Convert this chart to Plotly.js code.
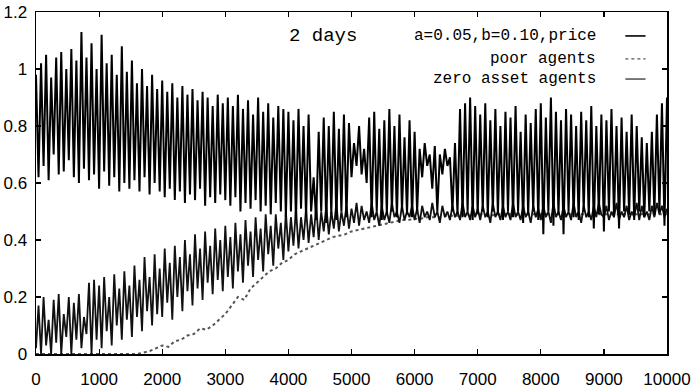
<!DOCTYPE html>
<html>
<head>
<meta charset="utf-8">
<script src="https://cdn.plot.ly/plotly-3.0.1.min.js"></script>
<style>html,body{margin:0;padding:0;background:#fff;}#chart{width:692px;height:392px;}</style>
</head>
<body>
<div id="chart"></div>
<script>
// time grid (sampling steps)
const priceStep = 40;
const zeroStep = 100;

// price series, sampled every 40 time steps (0 .. 10000)
const price = [
 0.98,0.62,1.02,0.66,1.05,0.61,0.97,0.70,1.04,0.63,1.06,0.64,1.00,0.68,1.07,0.62,1.03,0.60,1.13,0.65,1.04,0.61,1.09,0.63,1.00,
 0.58,1.12,0.64,1.02,0.59,1.05,0.62,0.98,0.57,1.08,0.60,0.99,0.58,1.03,0.61,0.95,0.57,1.00,0.62,0.94,0.56,0.98,0.60,0.93,0.57,
 0.96,0.55,0.92,0.58,0.95,0.54,0.90,0.57,0.94,0.53,0.91,0.56,0.93,0.54,0.89,0.58,0.92,0.52,0.90,0.55,0.87,0.53,0.91,0.56,0.88,
 0.54,0.90,0.52,0.87,0.55,0.91,0.50,0.86,0.53,0.89,0.51,0.84,0.54,0.90,0.50,0.85,0.52,0.88,0.49,0.83,0.53,0.87,0.50,0.86,0.48,
 0.85,0.50,0.82,0.47,0.86,0.51,0.80,0.48,0.84,0.50,0.62,0.47,0.78,0.50,0.83,0.46,0.80,0.49,0.85,0.47,0.79,0.50,0.84,0.48,0.81,
 0.62,0.74,0.66,0.80,0.63,0.72,0.60,0.83,0.48,0.85,0.50,0.79,0.47,0.82,0.49,0.86,0.50,0.80,0.48,0.84,0.50,0.76,0.49,0.82,0.48,
 0.78,0.50,0.72,0.62,0.74,0.66,0.70,0.58,0.73,0.50,0.70,0.63,0.72,0.66,0.69,0.50,0.74,0.49,0.86,0.48,0.88,0.50,0.90,0.47,0.87,
 0.49,0.84,0.50,0.88,0.48,0.82,0.50,0.86,0.49,0.80,0.47,0.85,0.50,0.83,0.48,0.87,0.50,0.78,0.46,0.84,0.49,0.81,0.50,0.86,0.47,
 0.88,0.42,0.83,0.50,0.90,0.45,0.85,0.49,0.82,0.42,0.86,0.50,0.84,0.48,0.80,0.47,0.85,0.50,0.82,0.48,0.87,0.44,0.80,0.49,0.84,
 0.43,0.82,0.50,0.86,0.48,0.80,0.44,0.83,0.50,0.78,0.49,0.84,0.47,0.80,0.50,0.76,0.48,0.74,0.50,0.78,0.49,0.84,0.50,0.88,0.45,0.90
];

// poor agents, sampled every 40 time steps
const poorAgents = [
 0.02,0.17,0.00,0.20,0.03,0.12,0.00,0.19,0.04,0.21,0.00,0.14,0.06,0.20,0.00,0.18,0.05,0.21,0.02,0.13,0.07,0.25,0.00,0.26,0.05,
 0.24,0.02,0.27,0.08,0.20,0.03,0.28,0.10,0.23,0.05,0.29,0.12,0.24,0.06,0.31,0.13,0.26,0.08,0.34,0.15,0.27,0.10,0.35,0.14,0.30,
 0.13,0.37,0.18,0.32,0.12,0.38,0.20,0.34,0.15,0.40,0.22,0.35,0.17,0.42,0.23,0.37,0.19,0.43,0.25,0.38,0.21,0.44,0.26,0.40,0.22,
 0.45,0.27,0.41,0.23,0.46,0.29,0.42,0.25,0.47,0.31,0.43,0.27,0.48,0.33,0.44,0.29,0.49,0.35,0.45,0.31,0.49,0.37,0.46,0.33,0.50,
 0.36,0.48,0.38,0.51,0.37,0.48,0.40,0.51,0.39,0.49,0.41,0.52,0.40,0.50,0.43,0.52,0.42,0.50,0.44,0.53,0.43,0.50,0.45,0.52,0.44,
 0.51,0.46,0.53,0.45,0.52,0.47,0.50,0.46,0.53,0.47,0.50,0.45,0.52,0.47,0.50,0.46,0.53,0.48,0.50,0.46,0.52,0.47,0.50,0.48,0.52,
 0.47,0.51,0.46,0.52,0.48,0.50,0.47,0.53,0.48,0.50,0.46,0.52,0.48,0.50,0.47,0.52,0.48,0.50,0.47,0.53,0.48,0.50,0.47,0.52,0.48,
 0.51,0.47,0.52,0.48,0.50,0.46,0.53,0.48,0.50,0.47,0.52,0.48,0.50,0.47,0.53,0.48,0.50,0.47,0.52,0.48,0.50,0.46,0.52,0.48,0.51,
 0.47,0.52,0.48,0.50,0.46,0.53,0.48,0.50,0.47,0.52,0.48,0.50,0.47,0.53,0.48,0.50,0.46,0.52,0.48,0.50,0.47,0.52,0.48,0.53,0.49,
 0.48,0.52,0.47,0.50,0.48,0.53,0.47,0.50,0.48,0.52,0.47,0.50,0.48,0.53,0.47,0.52,0.48,0.50,0.47,0.52,0.48,0.53,0.49,0.52,0.48,0.51
];

// zero asset agents, sampled every 100 time steps
const zeroAsset = [
 0,0,0,0,0,0,0,0,0,0,
 0,0,0,0,0,0,0,0.005,0.01,0.02,
 0.03,0.025,0.045,0.05,0.065,0.07,0.09,0.085,0.10,0.12,
 0.14,0.17,0.20,0.19,0.23,0.25,0.27,0.29,0.30,0.32,
 0.33,0.35,0.36,0.37,0.38,0.39,0.40,0.41,0.415,0.42,
 0.43,0.435,0.44,0.445,0.45,0.455,0.46,0.465,0.47,0.47,
 0.475,0.475,0.48,0.48,0.48,0.485,0.485,0.485,0.49,0.485,
 0.49,0.49,0.485,0.49,0.49,0.49,0.49,0.485,0.49,0.49,
 0.49,0.49,0.49,0.49,0.49,0.49,0.49,0.49,0.49,0.49,
 0.49,0.49,0.49,0.49,0.49,0.49,0.49,0.49,0.49,0.49,0.49
];

const xTicks = [0,1000,2000,3000,4000,5000,6000,7000,8000,9000,10000];
const yTicks = [0,0.2,0.4,0.6,0.8,1,1.2];
const yTickText = ['0','0.2','0.4','0.6','0.8','1','1.2'];
const legendLabels = ['a=0.05,b=0.10,price','poor agents','zero asset agents'];
const titleText = '2 days';

const tPrice = price.map((_, i) => i * priceStep);
const tPoor = poorAgents.map((_, i) => i * priceStep);
const tZero = zeroAsset.map((_, i) => i * zeroStep);

const traces = [
  {x: tZero, y: zeroAsset, type: 'scatter', mode: 'lines', name: legendLabels[2],
   line: {color: '#555', width: 2, dash: 'dot'}},
  {x: tPoor, y: poorAgents, type: 'scatter', mode: 'lines', name: legendLabels[1],
   line: {color: '#111', width: 1.8}},
  {x: tPrice, y: price, type: 'scatter', mode: 'lines', name: legendLabels[0],
   line: {color: '#000', width: 2}}
];

const monoFont = {family: 'Liberation Mono, monospace', size: 16, color: '#000'};
const lx0 = 0.934, lx1 = 0.966;
const rows = [0.930, 0.863, 0.804];

const layout = {
  width: 692, height: 392,
  margin: {l: 36, r: 25, t: 12, b: 38},
  paper_bgcolor: '#fff', plot_bgcolor: '#fff',
  showlegend: false,
  font: {family: 'Liberation Sans, Arial, sans-serif', size: 17, color: '#000'},
  xaxis: {
    range: [0, 10000], tickvals: xTicks, ticktext: xTicks.map(String),
    ticks: 'inside', ticklen: 5, tickcolor: '#000', tickwidth: 1.2,
    showline: true, mirror: 'ticks', linecolor: '#000', linewidth: 1.5,
    showgrid: false, zeroline: false, ticklabelstandoff: 9
  },
  yaxis: {
    range: [0, 1.2], tickvals: yTicks, ticktext: yTickText,
    ticks: 'inside', ticklen: 5, tickcolor: '#000', tickwidth: 1.2,
    showline: true, mirror: 'ticks', linecolor: '#000', linewidth: 1.5,
    showgrid: false, zeroline: false, ticklabelstandoff: 4
  },
  annotations: [
    {text: titleText, xref: 'paper', yref: 'paper', x: 0.455, y: rows[0], xanchor: 'center', yanchor: 'middle',
     showarrow: false, font: {family: 'Liberation Mono, monospace', size: 19, color: '#000'}},
    {text: legendLabels[0], xref: 'paper', yref: 'paper', x: 0.891, y: rows[0], xanchor: 'right', yanchor: 'middle', showarrow: false, font: monoFont},
    {text: legendLabels[1], xref: 'paper', yref: 'paper', x: 0.891, y: rows[1], xanchor: 'right', yanchor: 'middle', showarrow: false, font: monoFont},
    {text: legendLabels[2], xref: 'paper', yref: 'paper', x: 0.891, y: rows[2], xanchor: 'right', yanchor: 'middle', showarrow: false, font: monoFont}
  ],
  shapes: [
    {type: 'line', xref: 'paper', yref: 'paper', x0: lx0, x1: lx1, y0: rows[0], y1: rows[0], line: {color: '#000', width: 1.6}},
    {type: 'line', xref: 'paper', yref: 'paper', x0: lx0, x1: lx1, y0: rows[1], y1: rows[1], line: {color: '#555', width: 1.2, dash: 'dot'}},
    {type: 'line', xref: 'paper', yref: 'paper', x0: lx0, x1: lx1, y0: rows[2], y1: rows[2], line: {color: '#222', width: 1.2}}
  ]
};

Plotly.newPlot('chart', traces, layout, {displayModeBar: false, staticPlot: true});
</script>
</body>
</html>
